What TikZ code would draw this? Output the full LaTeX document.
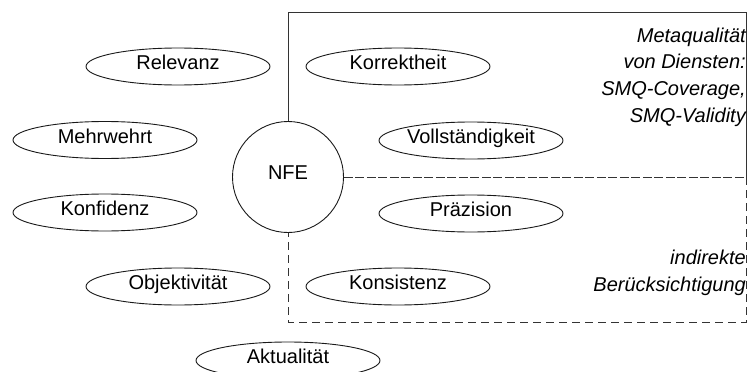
\documentclass[tikz,border=0pt]{standalone}
\usepackage{fontspec}
\setmainfont{Liberation Sans}
\usetikzlibrary{shapes.geometric}
\begin{document}
\begin{tikzpicture}[x=1pt, y=-1pt,
  every node/.style={font=\fontsize{20}{26.7}\selectfont},
  quality/.style={ellipse, draw=black!90, line width=0.9pt,
    minimum width=184pt, minimum height=37pt, inner sep=0pt,
    text height=8pt, text depth=2pt},
  hub/.style={circle, draw=black!90, line width=0.9pt,
    minimum size=111pt, inner sep=0pt, text height=6pt, text depth=1.5pt},
  frame/.style={draw=black!80, line width=0.9pt},
  longdash/.style={dash pattern=on 8pt off 5pt},
  shortdash/.style={dash pattern=on 9pt off 2.5pt},
  note/.style={font=\fontsize{20}{26.7}\selectfont\itshape, align=right,
    inner sep=0pt, anchor=north east}
]
\useasboundingbox (0,0) rectangle (748,372);
\clip (0,0) rectangle (748,372);

% central circle
\node[hub] (nfe) at (288,177) {NFE};

% quality criteria
\node[quality] (relevanz)   at (178,66.5)  {Relevanz};
\node[quality] (korrekt)    at (398,66.5)  {Korrektheit};
\node[quality] (mehrwert)   at (105,140)   {Mehrwehrt};
\node[quality] (vollst)     at (471,140.5) {Vollständigkeit};
\node[quality] (konfidenz)  at (105,212.5) {Konfidenz};
\node[quality] (praezision) at (471,213.5) {Präzision};
\node[quality] (objekt)     at (178,286.5) {Objektivität};
\node[quality] (konsistenz) at (398,286.5) {Konsistenz};
\node[quality] (aktual)     at (288,360.5) {Aktualität};

% corners of the two regions
\coordinate (tl) at (288,12);
\coordinate (tr) at (746.5,12);
\coordinate (mr) at (746.5,177);
\coordinate (br) at (746.5,322);
\coordinate (bl) at (288,322);

% upper region: meta quality of services
\draw[frame] (nfe.north) -- (tl) -- (tr) -- (mr);
\draw[frame, shortdash] (nfe.east) -- (mr);
% lower region: indirect consideration
\draw[frame, longdash] (mr) -- (br) -- (bl) -- (nfe.south);

% region captions
\node[note] (meta) at (746,27.4)
  {Metaqualität\\von Diensten:\\SMQ-Coverage,\\SMQ-Validity};
\node[note] (indirekt) at (746,249.7)
  {indirekte\\Berücksichtigung};
\end{tikzpicture}
\end{document}
